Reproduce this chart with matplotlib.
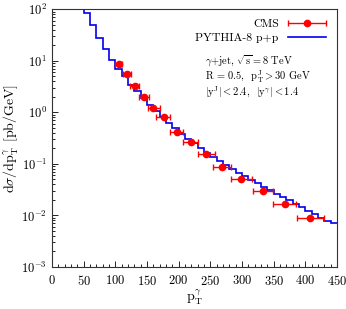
import numpy as np
import matplotlib
matplotlib.use('Agg')
import matplotlib.pyplot as plt
from matplotlib.ticker import MultipleLocator, LogLocator, NullFormatter
from matplotlib.legend_handler import HandlerErrorbar

plt.rcParams['font.family'] = 'cmr10'
plt.rcParams['mathtext.fontset'] = 'cm'
plt.rcParams['axes.formatter.use_mathtext'] = True

# PYTHIA-8 histogram, 10 GeV bins (first bin sits above the frame)
edges = np.arange(40, 460, 10)
pythia = [150, 86, 49.8, 27.5, 16.9, 10.5, 7.0, 5.0, 3.45, 2.6, 1.92,
          1.42, 1.06, 0.82, 0.63, 0.49, 0.386, 0.309, 0.251, 0.204, 0.166,
          0.137, 0.113, 0.0946, 0.079, 0.0675, 0.057, 0.049, 0.042, 0.036,
          0.031, 0.026, 0.023, 0.0197, 0.017, 0.0144, 0.0124, 0.0107,
          0.0091, 0.0079, 0.0070]

# CMS data
cms_pt = [106, 118, 131, 145, 160, 177, 197, 219, 244, 269, 299, 333, 368, 408]
cms_lo = [100, 112, 124, 137, 152, 165, 186, 207, 230, 255, 283, 317, 349, 387]
cms_hi = [111, 125, 138, 154, 170, 187, 207, 231, 257, 283, 316, 349, 385, 430]
cms_y = [8.7, 5.65, 3.26, 2.0, 1.23, 0.80, 0.416, 0.267, 0.159, 0.089,
         0.052, 0.0293, 0.0164, 0.0090]

xerr = [np.array(cms_pt) - np.array(cms_lo), np.array(cms_hi) - np.array(cms_pt)]

fig = plt.figure(figsize=(3.46, 3.09), dpi=100)
ax = fig.add_axes([0.150, 0.136, 0.824, 0.834])

ax.stairs(pythia, edges, baseline=None, color='#0000ee', lw=1.2,
          label='PYTHIA-8 p+p', zorder=2)
eb = ax.errorbar(cms_pt, cms_y, xerr=xerr, fmt='o', color='#ff0000', ms=4.5,
                 elinewidth=1.0, capsize=2, capthick=1.0, label='CMS', zorder=3)

ax.set_yscale('log')
ax.set_xlim(0, 450)
ax.set_ylim(1e-3, 1e2)
ax.xaxis.set_major_locator(MultipleLocator(50))
ax.xaxis.set_minor_locator(MultipleLocator(10))
ax.yaxis.set_major_locator(LogLocator(base=10, numticks=10))
ax.yaxis.set_minor_locator(LogLocator(base=10, subs=np.arange(2, 10), numticks=20))
ax.yaxis.set_minor_formatter(NullFormatter())
ax.tick_params(which='both', direction='in', top=False, right=False, labelsize=9)
ax.tick_params(which='major', length=4, width=0.6)
ax.tick_params(which='minor', length=2, width=0.6)
ax.tick_params(axis='x', pad=5)
for s in ax.spines.values():
    s.set_linewidth(0.8)
    s.set_color('#333333')

ax.set_xlabel(r'$\mathrm{p_T^\gamma}$', fontsize=10, labelpad=0)
ax.set_ylabel(r'$\mathrm{d}\sigma/\mathrm{dp_T^\gamma}$ [pb/GeV]', fontsize=10, labelpad=1)

handles, labels = ax.get_legend_handles_labels()
ax.legend(handles[::-1], labels[::-1], loc='upper right', frameon=False,
          markerfirst=False, fontsize=8.5, handlelength=3.2,
          borderaxespad=0.3, labelspacing=0.35, bbox_to_anchor=(0.99, 0.995),
          handler_map={eb: HandlerErrorbar(xerr_size=1.6)})

ax.text(0.537, 0.797, r'$\gamma$+jet, $\sqrt{\mathrm{s}} = $8 TeV', transform=ax.transAxes,
        fontsize=7.5, va='center')
ax.text(0.537, 0.737, r'R = 0.5,  $\mathrm{p_T^J} > $30 GeV', transform=ax.transAxes,
        fontsize=7.5, va='center')
ax.text(0.537, 0.677, r'$|\mathrm{y^J}| < $2.4,  $|\mathrm{y^\gamma}| < $1.4', transform=ax.transAxes,
        fontsize=7.5, va='center')

plt.savefig('out.png', dpi=100)
